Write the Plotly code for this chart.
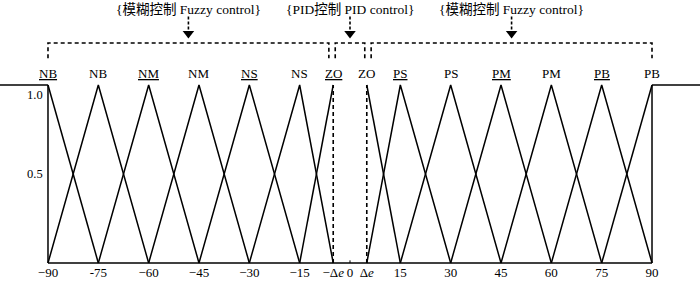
import plotly.graph_objects as go

# ---- data ----
mf_labels = ["NB", "NB", "NM", "NM", "NS", "NS", "ZO", "ZO", "PS", "PS", "PM", "PM", "PB", "PB"]
mf_underline = [1, 0, 1, 0, 1, 0, 1, 0, 1, 0, 1, 0, 1, 0]
mf_left = [-90, -90, -75, -60, -45, -30, -15, 5, 5, 15, 30, 45, 60, 75]
mf_peak = [-90, -75, -60, -45, -30, -15, -5, 5, 15, 30, 45, 60, 75, 90]
mf_right = [-75, -60, -45, -30, -15, -5, -5, 15, 30, 45, 60, 75, 90, 90]

solid_verticals = [-90, 90]
dashed_verticals = [-5, 5]

tick_vals = [-90, -75, -60, -45, -30, -15, -5, 0, 5, 15, 30, 45, 60, 75, 90]
tick_text = ["−90", "-75", "−60", "−45", "−30", "−15", "−Δ<i>e</i>", "0", "Δ<i>e</i>",
             "15", "30", "45", "60", "75", "90"]

y_tick_vals = [1.0, 0.5]
y_tick_text = ["1.0", "0.5"]

region_names = ["{模糊控制 Fuzzy control}", "{PID控制 PID control}", "{模糊控制 Fuzzy control}"]
region_x0 = [-90, -4.4, 6.3]
region_x1 = [-6.3, 4.4, 90]

# ---- layout constants ----
XR = 104.3
Y_LO, Y_HI = -0.118, 1.4775
BR_TOP, BR_BOT = 1.236, 1.15
LABEL_Y = 1.066
ARROW_TOP, ARROW_END, ARROW_HEAD = 1.385, 1.31, 1.29
TITLE_Y = 1.425

FONT = "'Liberation Serif', 'Noto Sans CJK SC', serif"
LW = 1.5
DASH = "4px,3px"

fig = go.Figure()


def line(xs, ys, dash="solid", width=LW):
    fig.add_trace(go.Scatter(x=xs, y=ys, mode="lines",
                             line=dict(color="black", width=width, dash=dash),
                             hoverinfo="skip", showlegend=False))


# membership functions
for l, p, r in zip(mf_left, mf_peak, mf_right):
    xs, ys = [], []
    if l < p:
        xs.append(l); ys.append(0)
    xs.append(p); ys.append(1)
    if r > p:
        xs.append(r); ys.append(0)
    line(xs, ys)

# saturation beyond the domain
line([-XR, min(mf_peak)], [1, 1])
line([max(mf_peak), XR], [1, 1])

for v in solid_verticals:
    line([v, v], [0, 1])
for v in dashed_verticals:
    line([v, v], [0, 1], dash=DASH, width=1.6)

# baseline and small tick at zero
line([min(tick_vals), max(tick_vals)], [0, 0])
line([0, 0], [0, 0.015], width=1)

# brackets, arrows, titles
for name, x0, x1 in zip(region_names, region_x0, region_x1):
    line([x0, x0, x1, x1], [BR_BOT, BR_TOP, BR_TOP, BR_BOT], dash=DASH, width=1.6)
    xm = (x0 + x1) / 2
    line([xm, xm], [ARROW_TOP, ARROW_END], dash="3px,2px", width=1.6)
    fig.add_trace(go.Scatter(x=[xm], y=[ARROW_HEAD], mode="markers",
                             marker=dict(symbol="triangle-down", size=10, color="black"),
                             hoverinfo="skip", showlegend=False))
    fig.add_annotation(x=xm, y=TITLE_Y, text=name, showarrow=False,
                       font=dict(family=FONT, size=13.5, color="black"))

# MF labels
for lab, u, p in zip(mf_labels, mf_underline, mf_peak):
    fig.add_annotation(x=p, y=LABEL_Y, text=f"<u>{lab}</u>" if u else lab,
                       showarrow=False, yanchor="middle",
                       font=dict(family=FONT, size=13, color="black"))

# y labels
for v, t in zip(y_tick_vals, y_tick_text):
    fig.add_annotation(x=min(mf_peak), y=v, text=t, showarrow=False,
                       xanchor="right", xshift=-3,
                       yanchor="top" if v == 1.0 else "middle",
                       yshift=-1 if v == 1.0 else 0,
                       font=dict(family=FONT, size=12.5, color="black"))

fig.update_layout(
    width=700, height=284,
    margin=dict(l=0, r=0, t=0, b=0, autoexpand=False),
    paper_bgcolor="white", plot_bgcolor="white",
    xaxis=dict(range=[-XR, XR], anchor="free", position=21 / 284,
               automargin=False,
               showline=False, showgrid=False, zeroline=False, ticks="",
               tickvals=tick_vals, ticktext=tick_text,
               tickfont=dict(family=FONT, size=13, color="black"),
               fixedrange=True),
    yaxis=dict(range=[Y_LO, Y_HI], visible=False, fixedrange=True, automargin=False),
)

fig.write_html("out.html", config={"displayModeBar": False},
               post_script="document.body.style.margin='0';document.body.style.overflow='hidden';")
